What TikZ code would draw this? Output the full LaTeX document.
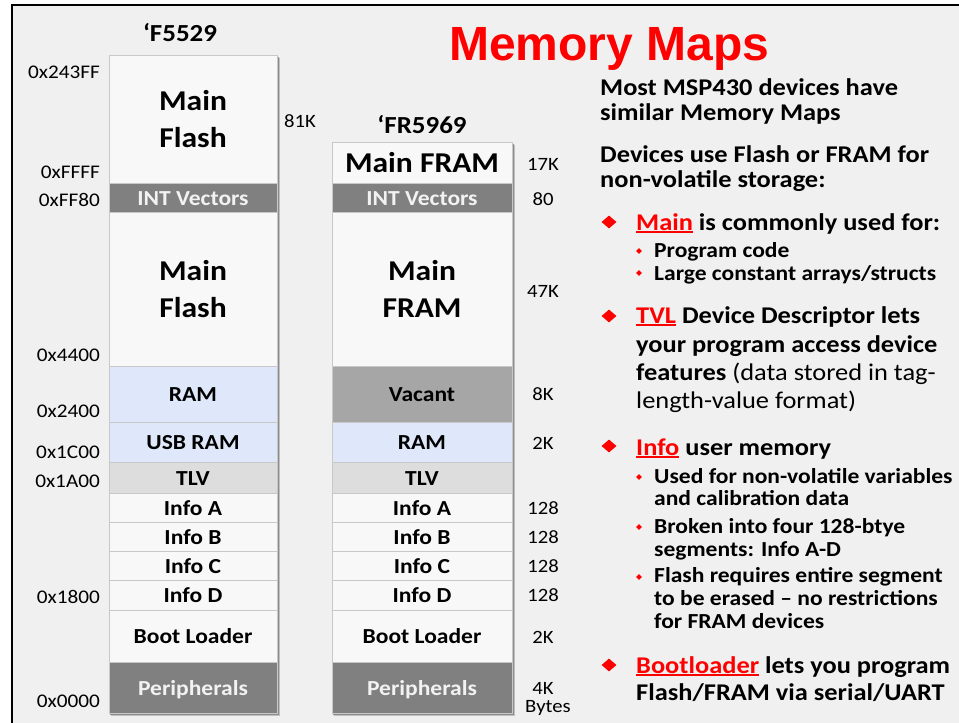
\documentclass[tikz,border=0pt]{standalone}
\usepackage{fontspec}
\setmainfont[FakeStretch=1.1]{Carlito}
\newfontfamily\titlefont{Liberation Sans}
\usetikzlibrary{shapes.geometric}
\definecolor{bgc}{HTML}{F0F0F0}
\definecolor{wsec}{HTML}{F8F8F8}
\definecolor{bsec}{HTML}{DEE8FA}
\definecolor{tsec}{HTML}{DDDDDD}
\definecolor{dsec}{HTML}{808080}
\definecolor{vsec}{HTML}{A6A6A6}
\definecolor{secline}{HTML}{C8C8C8}
\definecolor{dtext}{HTML}{F2F2F2}
\definecolor{redc}{HTML}{FF0000}
\newcommand\redul[1]{{\color{redc}\setbox0\hbox{#1}\rlap{\rule[-3pt]{\wd0}{1.6pt}}\box0}}
\tikzset{
  secA/.style={draw=secline, line width=0.6pt, minimum width=168, inner sep=0, outer sep=0, anchor=north west, align=center},
  secB/.style={draw=secline, line width=0.6pt, minimum width=180, inner sep=0, outer sep=0, anchor=north west, align=center},
  bigl/.style={font=\bfseries\fontsize{28.7}{37.5}\selectfont},
  smll/.style={font=\bfseries\fontsize{21.4}{24}\selectfont, text height=19.5pt, text depth=4pt},
  whitesec/.style={fill=wsec},
  bluesec/.style={fill=bsec},
  tlvsec/.style={fill=tsec},
  darksec/.style={fill=dsec, text=dtext},
  vacsec/.style={fill=vsec},
  addr/.style={anchor=east, inner sep=0, font=\fontsize{19.3}{20}\selectfont},
  sizel/.style={anchor=center, inner sep=0, font=\fontsize{18.8}{20}\selectfont},
  coltitle/.style={anchor=center, inner sep=0, font=\bfseries\fontsize{24.5}{26}\selectfont},
  mtxt/.style={anchor=base west, inner sep=0, font=\bfseries\fontsize{24}{28}\selectfont},
  stxt/.style={anchor=base west, inner sep=0, font=\bfseries\fontsize{21.4}{24}\selectfont},
  mdia/.style={diamond, fill=redc, inner sep=0, minimum width=15, minimum height=13},
  sdia/.style={diamond, fill=redc, inner sep=0, minimum width=6, minimum height=6},
}
\begin{document}
\begin{tikzpicture}[x=1pt,y=-1pt]
\useasboundingbox (0,0) rectangle (959,723);
\fill[white] (0,0) rectangle (959,723);
\fill[bgc] (12,5) rectangle (959,723);
\draw[line width=2.5pt] (12,723) -- (12,5) -- (959,5);

% title
\node[anchor=base west, inner sep=0, text=redc, font=\titlefont\bfseries\fontsize{48}{48}\selectfont] (title) at (449,60) {Memory Maps};

% shadows
\fill[black!25] (111,58) rectangle (280,716);
\fill[black!45] (110,57) rectangle (279,715);
\fill[black!25] (334,145) rectangle (515,716);
\fill[black!45] (333,144) rectangle (514,715);

% column 1
\node[coltitle] (c1t) at (180,33) {‘F5529};
\node[secA, whitesec, bigl, minimum height=128] (a1) at (109,55) {Main\\Flash};
\node[secA, darksec, smll, minimum height=29] (a2) at (109,183) {INT Vectors};
\node[secA, whitesec, bigl, minimum height=154] (a3) at (109,212) {Main\\Flash};
\node[secA, bluesec, smll, minimum height=56] (a4) at (109,366) {RAM};
\node[secA, bluesec, smll, minimum height=40] (a5) at (109,422) {USB RAM};
\node[secA, tlvsec, smll, minimum height=31] (a6) at (109,462) {TLV};
\node[secA, whitesec, smll, minimum height=29] (a7) at (109,493) {Info A};
\node[secA, whitesec, smll, minimum height=29] (a8) at (109,522) {Info B};
\node[secA, whitesec, smll, minimum height=29] (a9) at (109,551) {Info C};
\node[secA, whitesec, smll, minimum height=30] (a10) at (109,580) {Info D};
\node[secA, whitesec, smll, minimum height=52] (a11) at (109,610) {Boot Loader};
\node[secA, darksec, smll, minimum height=51] (a12) at (109,662) {Peripherals};

% column 2
\node[coltitle] (c2t) at (422,125) {‘FR5969};
\node[secB, whitesec, bigl, minimum height=41] (b1) at (332,142) {Main FRAM};
\node[secB, darksec, smll, minimum height=29] (b2) at (332,183) {INT Vectors};
\node[secB, whitesec, bigl, minimum height=154] (b3) at (332,212) {Main\\FRAM};
\node[secB, vacsec, smll, minimum height=56] (b4) at (332,366) {Vacant};
\node[secB, bluesec, smll, minimum height=40] (b5) at (332,422) {RAM};
\node[secB, tlvsec, smll, minimum height=31] (b6) at (332,462) {TLV};
\node[secB, whitesec, smll, minimum height=29] (b7) at (332,493) {Info A};
\node[secB, whitesec, smll, minimum height=29] (b8) at (332,522) {Info B};
\node[secB, whitesec, smll, minimum height=29] (b9) at (332,551) {Info C};
\node[secB, whitesec, smll, minimum height=30] (b10) at (332,580) {Info D};
\node[secB, whitesec, smll, minimum height=52] (b11) at (332,610) {Boot Loader};
\node[secB, darksec, smll, minimum height=51] (b12) at (332,662) {Peripherals};

% addresses
\node[addr] (ad1) at (100,72) {0x243FF};
\node[addr] (ad2) at (100,172) {0xFFFF};
\node[addr] (ad3) at (100,200) {0xFF80};
\node[addr] (ad4) at (100,355) {0x4400};
\node[addr] (ad5) at (100,411) {0x2400};
\node[addr] (ad6) at (100,452) {0x1C00};
\node[addr] (ad7) at (100,481) {0x1A00};
\node[addr] (ad8) at (100,597) {0x1800};
\node[addr] (ad9) at (100,701) {0x0000};

% sizes
\node[sizel] (z0) at (300,121) {81K};
\node[sizel] (z1) at (543,164) {17K};
\node[sizel] (z2) at (543,199) {80};
\node[sizel] (z3) at (543,291) {47K};
\node[sizel] (z4) at (543,394) {8K};
\node[sizel] (z5) at (543,443) {2K};
\node[sizel] (z6) at (543,508) {128};
\node[sizel] (z7) at (543,537) {128};
\node[sizel] (z8) at (543,566) {128};
\node[sizel] (z9) at (543,595) {128};
\node[sizel] (z10) at (543,637) {2K};
\node[sizel] (z11) at (543,688) {4K};
\node[sizel] (z12) at (548,708) {Bytes};

% right text
\node[mtxt] (p1) at (600,95) {Most MSP430 devices have};
\node[mtxt] (p2) at (600,120) {similar Memory Maps};
\node[mtxt] (p3) at (600,162) {Devices use Flash or FRAM for};
\node[mtxt] (p4) at (600,187) {non-volatile storage:};

\node[mdia] (d1) at (609,222) {};
\node[mtxt] (m1) at (636,230) {\redul{Main} is commonly used for:};
\node[sdia] (e1) at (639,251) {};
\node[stxt] (s1) at (654,257) {Program code};
\node[sdia] (e2) at (639,273) {};
\node[stxt] (s2) at (654,280) {Large constant arrays/structs};

\node[mdia] (d2) at (609,316) {};
\node[mtxt] (m2) at (636,323) {\redul{TVL} Device Descriptor lets};
\node[mtxt] (m2b) at (636,352) {your program access device};
\node[mtxt] (m2c) at (636,380) {features {\mdseries (data stored in tag-}};
\node[mtxt, font=\mdseries\fontsize{24}{28}\selectfont] (m2d) at (636,408) {length-value format)};

\node[mdia] (d3) at (609,446) {};
\node[mtxt] (m3) at (636,455) {\redul{Info} user memory};
\node[sdia] (e3) at (639,477) {};
\node[stxt] (s3) at (654,483) {Used for non-volatile variables};
\node[stxt] (s3b) at (654,505) {and calibration data};
\node[sdia] (e4) at (639,527) {};
\node[stxt] (s4) at (654,533) {Broken into four 128-btye};
\node[stxt] (s4b) at (654,556) {segments: Info A-D};
\node[sdia] (e5) at (639,577) {};
\node[stxt] (s5) at (654,582) {Flash requires entire segment};
\node[stxt] (s5b) at (654,605) {to be erased – no restrictions};
\node[stxt] (s5c) at (654,628) {for FRAM devices};

\node[mdia] (d4) at (609,665) {};
\node[mtxt] (m4) at (636,673) {\redul{Bootloader} lets you program};
\node[mtxt] (m4b) at (636,700) {Flash/FRAM via serial/UART};
\end{tikzpicture}
\end{document}
